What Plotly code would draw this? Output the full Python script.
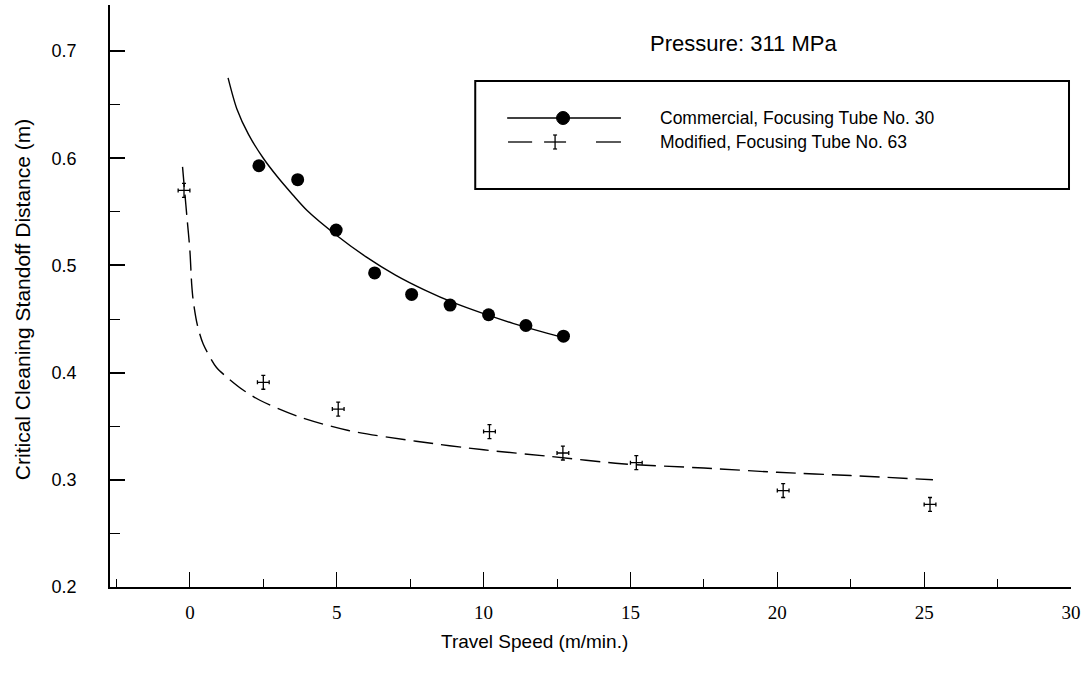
import plotly.graph_objects as go

# ---------------- data ----------------
# Commercial, Focusing Tube No. 30 (filled circles)
comm_speed = [2.35, 3.67, 4.98, 6.29, 7.55, 8.86, 10.17, 11.44, 12.72]
comm_dist = [0.593, 0.580, 0.533, 0.493, 0.473, 0.463, 0.454, 0.444, 0.434]
# fitted curve for commercial (solid)
comm_fit_x = [1.3, 1.6, 2.0, 2.5, 3.0, 3.5, 4.0, 5.0, 6.0, 7.0, 8.0, 9.0, 10.0, 11.0, 12.0, 12.7]
comm_fit_y = [0.675, 0.646, 0.622, 0.600, 0.582, 0.566, 0.551, 0.528, 0.508, 0.491, 0.477,
              0.465, 0.455, 0.446, 0.438, 0.433]

# Modified, Focusing Tube No. 63 (crosses with error bars)
mod_speed = [-0.2, 2.5, 5.05, 10.2, 12.7, 15.2, 20.2, 25.2]
mod_dist = [0.570, 0.391, 0.366, 0.345, 0.325, 0.316, 0.290, 0.277]
mod_err_y = [0.0065, 0.0065, 0.0065, 0.0065, 0.0065, 0.0065, 0.0065, 0.0065]
mod_err_x = [0.2, 0.2, 0.2, 0.2, 0.2, 0.2, 0.2, 0.2]
# fitted curve for modified (dashed)
mod_fit_x = [-0.25, -0.18, -0.1, 0.0, 0.06, 0.11, 0.25, 0.45, 0.9, 1.25, 1.8, 2.4, 3.7, 5.4,
             7.7, 10.0, 12.2, 14.7, 17.5, 20.0, 22.5, 25.3]
mod_fit_y = [0.592, 0.570, 0.545, 0.514, 0.483, 0.468, 0.445, 0.427, 0.405, 0.396, 0.384,
             0.374, 0.359, 0.346, 0.336, 0.328, 0.322, 0.315, 0.311, 0.307, 0.304, 0.300]

x_ticks = [0, 5, 10, 15, 20, 25, 30]
y_ticks = [0.2, 0.3, 0.4, 0.5, 0.6, 0.7]

legend_labels = ["Commercial, Focusing Tube No. 30", "Modified, Focusing Tube No. 63"]
x_title = "Travel Speed (m/min.)"
y_title = "Critical Cleaning Standoff Distance (m)"
note = "Pressure: 311 MPa"

# ---------------- layout geometry ----------------
W, H = 1086, 682
ML, MR, MT, MB = 110, 13, 5, 95
PW, PH = W - ML - MR, H - MT - MB

SANS = "Liberation Sans, Arial"
SERIF = "Liberation Serif, Times New Roman"


def px(x):
    return (x - ML) / PW


def py(y):
    return (H - MB - y) / PH


fig = go.Figure()

fig.add_trace(go.Scatter(x=comm_fit_x, y=comm_fit_y, mode="lines",
                         line=dict(color="black", width=1.4, shape="spline", smoothing=0.8),
                         showlegend=False, hoverinfo="skip"))
fig.add_trace(go.Scatter(x=comm_speed, y=comm_dist, mode="markers",
                         marker=dict(color="black", size=13),
                         showlegend=False, name=legend_labels[0]))

fig.add_trace(go.Scatter(x=mod_fit_x, y=mod_fit_y, mode="lines",
                         line=dict(color="black", width=1.4, dash="20px,8px",
                                   shape="spline", smoothing=0.8),
                         showlegend=False, hoverinfo="skip"))
fig.add_trace(go.Scatter(x=mod_speed, y=mod_dist, mode="markers",
                         marker=dict(color="black", size=1),
                         error_y=dict(type="data", array=mod_err_y, color="black",
                                      thickness=1.3, width=2),
                         error_x=dict(type="data", array=mod_err_x, color="black",
                                      thickness=1.3, width=2),
                         showlegend=False, name=legend_labels[1]))

shapes = []
annotations = []

# legend box
shapes.append(dict(type="rect", xref="paper", yref="paper",
                   x0=px(476), x1=px(1071), y0=py(189), y1=py(81),
                   line=dict(color="black", width=2)))
# legend row 1: solid line with dot
shapes.append(dict(type="line", xref="paper", yref="paper",
                   x0=px(508), x1=px(622), y0=py(118), y1=py(118),
                   line=dict(color="black", width=1.4)))
shapes.append(dict(type="circle", xref="paper", yref="paper",
                   xsizemode="pixel", ysizemode="pixel",
                   xanchor=px(564), yanchor=py(118),
                   x0=-6.5, x1=6.5, y0=-6.5, y1=6.5,
                   fillcolor="black", line=dict(color="black", width=1)))
# legend row 2: dashed line with cross
for a, b in [(509, 533), (545, 567), (597, 622)]:
    shapes.append(dict(type="line", xref="paper", yref="paper",
                       x0=px(a), x1=px(b), y0=py(142), y1=py(142),
                       line=dict(color="black", width=1.3)))
shapes.append(dict(type="line", xref="paper", yref="paper",
                   x0=px(556), x1=px(556), y0=py(135), y1=py(149),
                   line=dict(color="black", width=1.3)))
for yy in (135, 149):
    shapes.append(dict(type="line", xref="paper", yref="paper",
                       x0=px(554), x1=px(558), y0=py(yy), y1=py(yy),
                       line=dict(color="black", width=1.2)))

for lab, yy in zip(legend_labels, (118, 142)):
    annotations.append(dict(text=lab, xref="paper", yref="paper", x=px(659), y=py(yy),
                            xanchor="left", yanchor="middle", showarrow=False,
                            font=dict(family=SANS, size=17.5, color="black")))

annotations.append(dict(text=note, xref="paper", yref="paper",
                        x=px(745), y=py(44), xanchor="center", yanchor="middle",
                        showarrow=False, font=dict(family=SANS, size=22, color="black")))

# axis titles (positioned as in the reference)
annotations.append(dict(text=x_title, xref="paper", yref="paper",
                        x=px(535), y=py(641), xanchor="center", yanchor="middle",
                        showarrow=False, font=dict(family=SANS, size=19, color="black")))
annotations.append(dict(text=y_title, xref="paper", yref="paper",
                        x=px(22), y=py(300), xanchor="center", yanchor="middle",
                        textangle=-90, showarrow=False,
                        font=dict(family=SANS, size=21, color="black")))

fig.update_layout(
    width=W, height=H,
    margin=dict(l=ML, r=MR, t=MT, b=MB),
    paper_bgcolor="white", plot_bgcolor="white",
    shapes=shapes, annotations=annotations,
    showlegend=False,
    xaxis=dict(range=[-2.72, 30.0], tickvals=x_ticks, ticktext=[str(v) for v in x_ticks],
               showgrid=False, zeroline=False, showline=True, linecolor="black", linewidth=1.6,
               ticks="inside", ticklen=15, tickwidth=1.3, tickcolor="black",
               minor=dict(dtick=2.5, ticks="inside", ticklen=8, tickwidth=1.1, tickcolor="black"),
               tickfont=dict(family=SERIF, size=19, color="black"),
               ticklabelstandoff=7),
    yaxis=dict(range=[0.2, 0.743], tickvals=y_ticks, ticktext=["%.1f" % v for v in y_ticks],
               showgrid=False, zeroline=False, showline=True, linecolor="black", linewidth=1.6,
               ticks="inside", ticklen=15, tickwidth=1.5, tickcolor="black",
               minor=dict(dtick=0.05, ticks="inside", ticklen=10, tickwidth=1.2, tickcolor="black"),
               tickfont=dict(family=SANS, size=18, color="black"),
               ticklabelstandoff=28),
)

fig.write_html("out.html")
